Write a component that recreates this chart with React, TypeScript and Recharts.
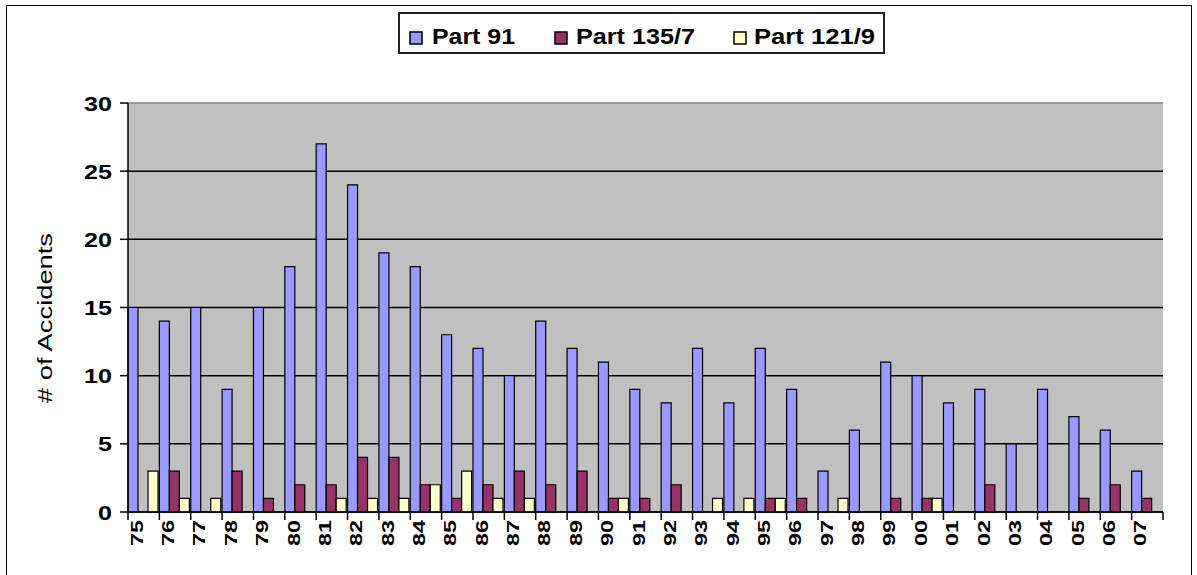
import React from "react";
import {
  BarChart,
  Bar,
  XAxis,
  YAxis,
  CartesianGrid,
  Legend,
  ReferenceLine,
} from "recharts";

const years = [
  "75", "76", "77", "78", "79", "80", "81", "82", "83", "84", "85",
  "86", "87", "88", "89", "90", "91", "92", "93", "94", "95", "96",
  "97", "98", "99", "00", "01", "02", "03", "04", "05", "06", "07",
];
const part91 = [15, 14, 15, 9, 15, 18, 27, 24, 19, 18, 13, 12, 10, 14, 12, 11, 9, 8, 12, 8, 12, 9, 3, 6, 11, 10, 8, 9, 5, 9, 7, 6, 3];
const part135 = [0, 3, 0, 3, 1, 2, 2, 4, 4, 2, 1, 2, 3, 2, 3, 1, 1, 2, 0, 0, 1, 1, 0, 0, 1, 1, 0, 2, 0, 0, 1, 2, 1];
const part121 = [3, 1, 1, 0, 0, 0, 1, 1, 1, 2, 3, 1, 1, 0, 0, 1, 0, 0, 1, 1, 1, 0, 1, 0, 0, 1, 0, 0, 0, 0, 0, 0, 0];
const yTicks = [0, 5, 10, 15, 20, 25, 30];
const seriesNames = ["Part 91", "Part 135/7", "Part 121/9"];

const data = years.map((y, i) => ({
  year: y,
  p91: part91[i],
  p135: part135[i],
  p121: part121[i],
}));

const W = 1197;
const H = 575;
const LEFT = 128;
const RIGHT = 34;
const band = (W - LEFT - RIGHT) / years.length;
const font = "'Liberation Sans', Arial, sans-serif";

const YTick = (props: any) => {
  const { x, y, payload } = props;
  const s = String(payload.value);
  return (
    <text
      x={x}
      y={y}
      dy={7.5}
      textAnchor="end"
      fontFamily={font}
      fontSize={21}
      fontWeight="bold"
      fill="#000"
      textLength={s.length * 14}
      lengthAdjust="spacingAndGlyphs"
    >
      {s}
    </text>
  );
};

const XTick = (props: any) => {
  const { x, y, payload, index } = props;
  const left = x - band / 2;
  return (
    <g>
      <line x1={left} x2={left} y1={y - 8} y2={y} stroke="#000" strokeWidth={1.5} />
      {index === years.length - 1 && (
        <line x1={x + band / 2} x2={x + band / 2} y1={y - 8} y2={y} stroke="#000" strokeWidth={1.5} />
      )}
      <text
        x={x - 1}
        y={y}
        transform={`rotate(-90, ${x - 1}, ${y})`}
        textAnchor="end"
        fontFamily={font}
        fontSize={17}
        fontWeight="bold"
        fill="#000"
        textLength={26}
        lengthAdjust="spacingAndGlyphs"
      >
        {payload.value}
      </text>
    </g>
  );
};

const YLabel = (props: any) => {
  const vb = props.viewBox || { x: 0 };
  const cx = vb.x + 52;
  const cy = 318;
  return (
    <text
      x={cx}
      y={cy}
      transform={`rotate(-90, ${cx}, ${cy})`}
      textAnchor="middle"
      fontFamily={font}
      fontSize={21}
      fill="#000"
      textLength={170}
      lengthAdjust="spacingAndGlyphs"
    >
      # of Accidents
    </text>
  );
};

// legend item placement inside the box
const legendItems = [
  { icon: 10, text: 32, len: 83 },
  { icon: 155, text: 176, len: 119 },
  { icon: 334, text: 354, len: 121 },
];

const renderLegend = (props: any) => {
  const payload = props.payload || [];
  return (
    <div
      style={{
        width: 483,
        height: 38,
        border: "2px solid #222",
        background: "#fff",
      }}
    >
      <svg width={483} height={38}>
        {payload.map((entry: any) => {
          const pos = legendItems[seriesNames.indexOf(entry.value)];
          if (!pos) return null;
          return (
            <g key={entry.value}>
              <rect x={pos.icon} y={18} width={12} height={12} fill={entry.color} stroke="#000" strokeWidth={1.5} />
              <text
                x={pos.text}
                y={30}
                fontFamily={font}
                fontSize={22}
                fontWeight="bold"
                fill="#000"
                textLength={pos.len}
                lengthAdjust="spacingAndGlyphs"
              >
                {entry.value}
              </text>
            </g>
          );
        })}
      </svg>
    </div>
  );
};

export default function App() {
  return (
    <div
      style={{
        position: "absolute",
        left: 0,
        top: 0,
        width: W,
        height: H,
        overflow: "hidden",
        background: "#fff",
      }}
    >
      <div
        style={{
          position: "absolute",
          left: 6,
          top: 5,
          width: 1184,
          height: 620,
          border: "1px solid #000",
        }}
      />
      <div style={{ position: "absolute", left: 0, top: 0 }}>
        <BarChart
          width={W}
          height={H}
          data={data}
          margin={{ top: 103, right: RIGHT, left: 0, bottom: 0 }}
          barCategoryGap={0}
          barGap={0}
        >
          <CartesianGrid vertical={false} stroke="#000" strokeWidth={1.5} fill="#C0C0C0" fillOpacity={1} />
          <XAxis
            dataKey="year"
            height={63}
            interval={0}
            tickLine={false}
            tickSize={8}
            tickMargin={0}
            axisLine={{ stroke: "#000", strokeWidth: 1.5 }}
            tick={<XTick />}
          />
          <YAxis
            width={LEFT}
            domain={[0, 30]}
            ticks={yTicks}
            interval={0}
            tickSize={8}
            tickMargin={8}
            axisLine={{ stroke: "#000", strokeWidth: 1.5 }}
            tickLine={{ stroke: "#000", strokeWidth: 1.5 }}
            tick={<YTick />}
            label={<YLabel />}
          />
          <YAxis
            yAxisId="edge"
            orientation="right"
            width={0}
            tick={false}
            tickLine={false}
            axisLine={{ stroke: "#9a9a9a", strokeWidth: 1.5 }}
          />
          <ReferenceLine y={30} stroke="#9a9a9a" strokeWidth={2} />
          <Legend
            layout="horizontal"
            verticalAlign="middle"
            align="center"
            content={renderLegend}
            wrapperStyle={{ position: "absolute", top: 12, left: 398, width: 487, height: 42 }}
          />
          <Bar dataKey="p91" name={seriesNames[0]} fill="#9999FF" stroke="#000" strokeWidth={1.2} isAnimationActive={false} />
          <Bar dataKey="p135" name={seriesNames[1]} fill="#993366" stroke="#000" strokeWidth={1.2} isAnimationActive={false} />
          <Bar dataKey="p121" name={seriesNames[2]} fill="#FFFFCC" stroke="#000" strokeWidth={1.2} isAnimationActive={false} />
        </BarChart>
      </div>
    </div>
  );
}
